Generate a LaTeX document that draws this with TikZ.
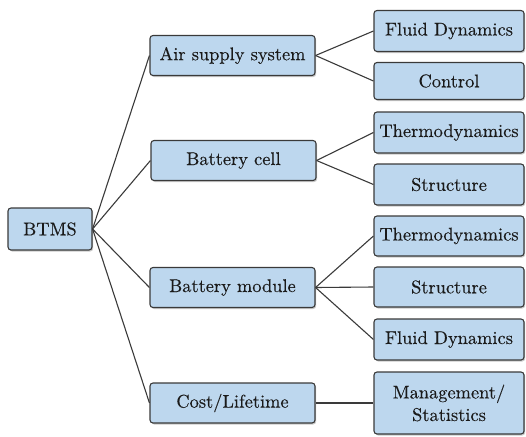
\documentclass[tikz,border=0pt]{standalone}
\usepackage{fontspec}
\newfontfamily\lmr{lmroman10-regular.otf}[FakeBold=0.25]
\usetikzlibrary{shadows}
\definecolor{boxfill}{HTML}{BDD7EE}
\definecolor{boxline}{HTML}{3A3A3A}
\definecolor{txt}{HTML}{1A1A1A}
\tikzset{
  box/.style={draw=boxline, line width=1.1pt, fill=boxfill, rounded corners=3pt,
    drop shadow={shadow xshift=1.2pt, shadow yshift=-1.5pt, opacity=0.35, fill=black!60},
    minimum height=40pt, inner sep=0pt, align=center, text=txt,
    font=\lmr\fontsize{18.4}{22.5}\selectfont},
  midbox/.style={box, minimum width=165pt},
  leafbox/.style={box, minimum width=150pt},
  link/.style={draw=boxline, line width=1.1pt}
}
\begin{document}
\begin{tikzpicture}[x=1pt,y=-1pt]
\useasboundingbox (0,0) rectangle (526,436);
\node[box, minimum width=84pt, minimum height=42pt] (btms) at (50,229) {BTMS};
\node[midbox] (air) at (232.5,55.5) {Air supply system};
\node[midbox] (cell) at (233.5,160.5) {Battery cell};
\node[midbox] (module) at (232.5,287.5) {Battery module};
\node[midbox] (cost) at (232.5,403) {Cost/Lifetime};
\node[leafbox, minimum height=41pt] (fd1) at (449,31) {Fluid Dynamics};
\node[leafbox, minimum height=37pt] (ctrl) at (449,81) {Control};
\node[leafbox, minimum height=41pt] (th1) at (449,132.5) {Thermodynamics};
\node[leafbox, minimum height=41pt] (st1) at (449,184.5) {Structure};
\node[leafbox, minimum height=40pt] (th2) at (449,236) {Thermodynamics};
\node[leafbox, minimum height=40pt] (st2) at (449,287) {Structure};
\node[leafbox, minimum height=41pt] (fd2) at (449,339.5) {Fluid Dynamics};
\node[leafbox, minimum height=62pt] (mgmt) at (449,403) {Management/\\Statistics};
\foreach \c in {air,cell,module,cost} \draw[link] (btms.east) -- (\c.west);
\draw[link] (air.east) -- (fd1.west);
\draw[link] (air.east) -- (ctrl.west);
\draw[link] (cell.east) -- (th1.west);
\draw[link] (cell.east) -- (st1.west);
\draw[link] (module.east) -- (th2.west);
\draw[link] (module.east) -- (st2.west);
\draw[link] (module.east) -- (fd2.west);
\draw[link] (cost.east) -- (mgmt.west);
\end{tikzpicture}
\end{document}
